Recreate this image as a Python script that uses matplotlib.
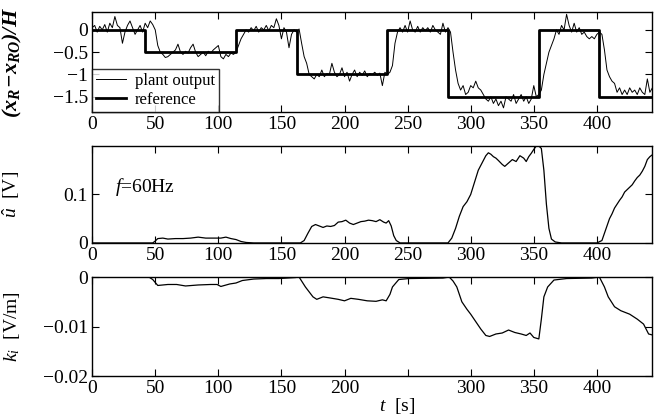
import numpy as np
import matplotlib
matplotlib.use("Agg")
import matplotlib.pyplot as plt

# --- fonts: Times-like look ---
plt.rcParams["font.family"] = ["Liberation Serif", "DejaVu Serif"]
plt.rcParams["mathtext.fontset"] = "custom"
plt.rcParams["mathtext.rm"] = "Liberation Serif"
plt.rcParams["mathtext.it"] = "Liberation Serif:italic"
plt.rcParams["mathtext.bf"] = "Liberation Serif:bold"
plt.rcParams["mathtext.bfit"] = "Liberation Serif:italic:bold"
plt.rcParams["axes.unicode_minus"] = True

# --- data ---
# plant output, sampled every 2 s from 0 to 444 s
plant_t = np.arange(0, 446, 2)
plant_y = [
    0.05, 0.10, -0.05, 0.08, 0.00, 0.12, -0.05, 0.15, 0.05, 0.30,
    0.10, 0.05, -0.30, -0.05, 0.10, 0.20, 0.05, -0.10, 0.00, 0.10,
    -0.05, 0.15, 0.05, 0.20, 0.12, 0.00, -0.35, -0.50, -0.55, -0.62,
    -0.60, -0.55, -0.50, -0.45, -0.32, -0.50, -0.55, -0.48, -0.52, -0.40,
    -0.32, -0.50, -0.60, -0.55, -0.50, -0.58, -0.48, -0.52, -0.45, -0.40,
    -0.35, -0.60, -0.65, -0.55, -0.60, -0.52, -0.55, -0.50, -0.35, -0.20,
    -0.10, 0.00, -0.05, 0.05, -0.02, 0.08, -0.05, 0.05, 0.00, 0.10,
    -0.02, 0.10, 0.05, 0.25, 0.10, -0.20, 0.05, -0.05, -0.40, -0.10,
    0.00, -0.05, 0.02, -0.30, -0.60, -0.75, -1.00, -1.05, -1.10, -1.00,
    -1.05, -0.90, -1.05, -0.98, -1.00, -0.75, -0.95, -1.05, -1.00, -0.85,
    -1.05, -0.95, -1.15, -1.00, -0.90, -1.05, -0.95, -1.02, -0.92, -1.05,
    -0.98, -1.00, -0.95, -1.02, -0.97, -1.25, -0.95, -1.00, -0.95, -0.80,
    -0.30, -0.05, 0.05, -0.05, 0.10, -0.05, 0.20, 0.00, -0.05, 0.08,
    -0.05, 0.05, -0.02, 0.05, -0.05, 0.10, 0.00, -0.05, -0.10, 0.15,
    -0.05, 0.05, -0.05, -0.50, -0.90, -1.20, -1.35, -1.25, -1.45, -1.40,
    -1.25, -1.30, -1.15, -1.30, -1.35, -1.45, -1.55, -1.60, -1.50, -1.65,
    -1.55, -1.70, -1.60, -1.75, -1.50, -1.55, -1.60, -1.45, -1.65, -1.55,
    -1.45, -1.60, -1.50, -1.65, -1.55, -1.25, -1.50, -1.45, -1.35, -1.00,
    -0.75, -0.50, -0.35, -0.20, 0.00, -0.10, 0.10, 0.00, 0.35, 0.10,
    -0.05, 0.15, -0.05, 0.05, -0.10, -0.05, -0.15, -0.20, -0.15, -0.20,
    -0.10, -0.05, -0.10, -0.45, -0.90, -1.05, -1.15, -1.20, -1.40, -1.30,
    -1.45, -1.35, -1.45, -1.30, -1.40, -1.35, -1.45, -1.30, -1.40, -1.45,
    -1.10, -1.40, -1.30,
]

# reference: switching times and levels (step, held until next switch)
ref_t = [0, 42, 114, 162, 234, 282, 354, 402, 444]
ref_y = [0, -0.5, 0, -1.0, 0, -1.5, 0, -1.5, -1.5]

# control amplitude u_hat [V]
u_t = [
    0, 48, 50, 52, 56, 60, 66, 72, 78, 84,
    90, 96, 102, 106, 110, 114, 118, 122, 128, 165,
    168, 171, 174, 177, 180, 183, 186, 189, 192, 195,
    198, 201, 204, 207, 210, 213, 216, 219, 222, 225,
    228, 231, 233, 235, 237, 239, 241, 244, 282, 285,
    288, 291, 294, 297, 300, 303, 306, 309, 312, 314,
    316, 318, 320, 322, 325, 327, 330, 333, 336, 339,
    342, 344, 346, 348, 350, 352, 354, 356, 358, 360,
    362, 364, 367, 372, 400, 404, 406, 408, 410, 412,
    414, 416, 418, 420, 422, 424, 426, 428, 430, 432,
    434, 436, 438, 440, 442, 444,
]
u_v = [
    0, 0, 0.004, 0.009, 0.010, 0.008, 0.009, 0.009, 0.010, 0.012,
    0.010, 0.010, 0.010, 0.012, 0.009, 0.007, 0.003, 0.001, 0, 0,
    0.005, 0.020, 0.034, 0.038, 0.035, 0.032, 0.035, 0.034, 0.036, 0.043,
    0.044, 0.047, 0.041, 0.038, 0.041, 0.044, 0.045, 0.047, 0.046, 0.044,
    0.048, 0.043, 0.041, 0.046, 0.035, 0.015, 0.005, 0, 0, 0.010,
    0.030, 0.055, 0.075, 0.085, 0.100, 0.125, 0.150, 0.165, 0.180, 0.186,
    0.183, 0.178, 0.175, 0.170, 0.162, 0.158, 0.165, 0.172, 0.168, 0.180,
    0.175, 0.168, 0.178, 0.185, 0.193, 0.200, 0.200, 0.195, 0.150, 0.080,
    0.030, 0.008, 0.002, 0, 0, 0.005, 0.020, 0.035, 0.050, 0.060,
    0.072, 0.080, 0.088, 0.095, 0.105, 0.110, 0.115, 0.120, 0.128, 0.135,
    0.140, 0.148, 0.158, 0.172, 0.178, 0.182,
]

# gain k_i [V/m]
k_t = [
    0, 45, 48, 52, 60, 67, 74, 84, 94, 99,
    102, 109, 114, 119, 128, 138, 148, 161, 164, 169,
    172, 175, 178, 183, 188, 195, 200, 205, 211, 218,
    225, 230, 233, 236, 238, 243, 251, 278, 283, 286,
    289, 293, 297, 300, 304, 308, 312, 315, 320, 325,
    330, 335, 340, 344, 347, 350, 354, 356, 358, 361,
    366, 376, 396, 402, 404, 406, 409, 414, 419, 426,
    432, 437, 441, 444,
]
k_v = [
    0, 0, -0.0005, -0.0017, -0.0015, -0.0015, -0.0018, -0.0016, -0.0015, -0.0015,
    -0.0019, -0.0014, -0.0012, -0.0007, -0.0004, -0.0003, -0.0003, -0.0001, 0, -0.0020,
    -0.0030, -0.0040, -0.0045, -0.0040, -0.0042, -0.0045, -0.0048, -0.0043, -0.0045, -0.0048,
    -0.0049, -0.0046, -0.0048, -0.0035, -0.0020, -0.0005, -0.0003, -0.0002, 0, -0.0008,
    -0.0020, -0.0050, -0.0065, -0.0075, -0.0090, -0.0105, -0.0118, -0.0120, -0.0115, -0.0113,
    -0.0107, -0.0112, -0.0115, -0.0118, -0.0113, -0.0122, -0.0125, -0.0085, -0.0040, -0.0020,
    -0.0006, -0.0003, -0.0002, 0, -0.0010, -0.0020, -0.0040, -0.0060, -0.0068, -0.0075,
    -0.0085, -0.0095, -0.0115, -0.0117,
]

x_ticks = [0, 50, 100, 150, 200, 250, 300, 350, 400]
FS = 14


def style_axis(ax):
    ax.set_xlim(0, 444)
    ax.set_xticks(x_ticks)
    ax.tick_params(direction="in", top=True, right=True, labelsize=FS,
                   length=5, width=0.8, pad=3)
    for s in ax.spines.values():
        s.set_linewidth(1.0)


fig = plt.figure(figsize=(6.63, 4.16), dpi=100)
ax1 = fig.add_axes([0.139, 0.731, 0.845, 0.240])
ax2 = fig.add_axes([0.139, 0.416, 0.845, 0.233])
ax3 = fig.add_axes([0.139, 0.096, 0.845, 0.238])

# --- top panel ---
ax1.plot(plant_t, plant_y, color="black", lw=0.7, label="plant output")
ax1.step(ref_t, ref_y, where="post", color="black", lw=2.0, label="reference")
style_axis(ax1)
ax1.set_ylim(-1.84, 0.40)
ax1.set_yticks([0, -0.5, -1, -1.5])
ax1.set_yticklabels(["0", "\u22120.5", "\u22121", "\u22121.5"])
ax1.set_ylabel(r"$\mathbfit{(x_R\!-\!x_{RO})/H}$", fontsize=16)
ax1.yaxis.set_label_coords(-0.122, 0.5)
leg = ax1.legend(loc="lower left", borderaxespad=0, fancybox=False,
                 edgecolor="black", fontsize=12, handlelength=1.8,
                 borderpad=0.25, labelspacing=0.15, handletextpad=0.5)
leg.get_frame().set_linewidth(1.0)

# --- middle panel ---
ax2.plot(u_t, u_v, color="black", lw=0.9)
style_axis(ax2)
ax2.set_ylim(0, 0.2)
ax2.set_yticks([0, 0.1])
ax2.set_yticklabels(["0", "0.1"])
ax2.set_ylabel(r"$\hat{u}$  [V]", fontsize=FS)
ax2.yaxis.set_label_coords(-0.125, 0.5)
ax2.text(18, 0.116, r"$f$=60Hz", fontsize=FS, va="center", ha="left")

# --- bottom panel ---
ax3.plot(k_t, k_v, color="black", lw=0.9)
style_axis(ax3)
ax3.set_ylim(-0.02, 0)
ax3.set_yticks([0, -0.01, -0.02])
ax3.set_yticklabels(["0", "\u22120.01", "\u22120.02"])
ax3.set_xticklabels(["0", "50", "100", "150", "200", "", "300", "350", "400"])
ax3.set_ylabel(r"$k_i$  [V/m]", fontsize=FS)
ax3.yaxis.set_label_coords(-0.125, 0.5)
ax3.set_xlabel(r"$t$  [s]", fontsize=FS)
ax3.xaxis.set_label_coords(242 / 444, -0.2)

fig.savefig("out.png", dpi=100)
